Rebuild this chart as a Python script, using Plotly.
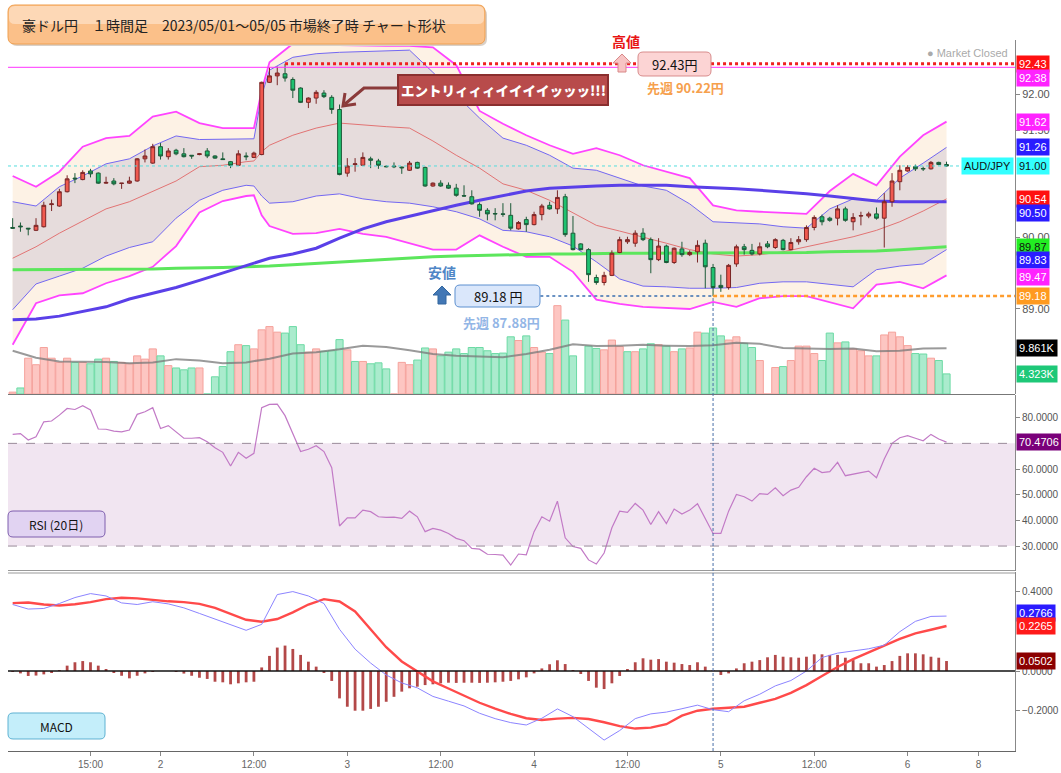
import plotly.graph_objects as go

# ---------------- data ----------------
candle_idx = list(range(121))  # hourly candles, AUD/JPY 2023/05/01 05:00 .. 05/06 05:00

opens = [
    90.14, 90.16, 90.13, 90.10, 90.15, 90.46, 90.44, 90.64, 90.83, 90.81,
    90.93, 90.90, 90.76, 90.79, 90.755, 90.76, 90.79, 91.10, 91.04, 91.27,
    91.13, 91.22, 91.17, 91.15, 91.16, 91.21, 91.14, 91.10, 91.06, 91.01,
    91.14, 91.12, 91.16, 92.17, 92.26, 92.29, 92.21, 92.09, 91.89, 91.95,
    92.02, 91.96, 91.79, 90.90, 91.02, 91.01, 91.10, 91.07, 90.995, 91.00,
    90.985, 90.94, 91.05, 90.98, 90.72, 90.76, 90.73, 90.69, 90.585, 90.57,
    90.46, 90.38, 90.335, 90.33, 90.31, 90.12, 90.25, 90.18, 90.32, 90.45,
    90.40, 90.57, 90.06, 89.91, 89.83, 89.44, 89.37, 89.47, 89.79, 89.94,
    89.92, 90.06, 89.97, 89.69, 89.88, 89.65, 89.84, 89.76, 89.80, 89.92,
    89.58, 89.33, 89.30, 89.63, 89.87, 89.82, 89.77, 89.91, 89.86, 89.96,
    89.83, 89.94, 89.97, 90.14, 90.29, 90.27, 90.27, 90.40, 90.22, 90.30,
    90.30, 90.33, 90.27, 90.50, 90.78, 90.93, 90.99, 90.965, 90.96, 91.05,
    91.02,
]
highs = [
    90.27, 90.21, 90.13, 90.27, 90.50, 90.53, 90.68, 90.87, 90.90, 90.94,
    90.96, 90.91, 90.85, 90.83, 90.76, 90.85, 91.11, 91.23, 91.31, 91.32,
    91.25, 91.24, 91.25, 91.15, 91.18, 91.25, 91.15, 91.19, 91.07, 91.22,
    91.19, 91.20, 92.18, 92.38, 92.39, 92.43, 92.24, 92.10, 91.96, 92.06,
    92.06, 91.99, 91.86, 91.11, 91.11, 91.19, 91.13, 91.10, 91.01, 91.05,
    90.99, 91.07, 91.06, 90.99, 90.77, 90.80, 90.77, 90.75, 90.73, 90.66,
    90.49, 90.41, 90.41, 90.48, 90.48, 90.23, 90.29, 90.36, 90.47, 90.50,
    90.66, 90.61, 90.30, 89.92, 89.85, 89.48, 89.52, 89.82, 90.01, 90.01,
    90.10, 90.13, 90.00, 89.99, 89.90, 89.86, 89.94, 89.82, 89.96, 89.97,
    89.63, 89.48, 89.63, 89.90, 89.91, 89.91, 89.93, 89.95, 89.99, 89.98,
    89.99, 90.02, 90.17, 90.31, 90.32, 90.29, 90.45, 90.43, 90.34, 90.36,
    90.36, 90.42, 90.62, 90.90, 91.01, 91.01, 91.02, 90.99, 91.07, 91.06,
    91.06,
]
lows = [
    90.12, 90.08, 90.03, 90.09, 90.14, 90.37, 90.43, 90.63, 90.76, 90.80,
    90.84, 90.75, 90.75, 90.73, 90.68, 90.75, 90.78, 91.05, 91.03, 91.09,
    91.09, 91.15, 91.12, 91.10, 91.15, 91.11, 91.10, 91.085, 90.97, 91.00,
    91.08, 91.11, 91.15, 92.16, 92.13, 92.18, 91.95, 91.88, 91.81, 91.87,
    91.95, 91.73, 90.87, 90.85, 90.92, 91.00, 90.97, 90.96, 90.98, 90.97,
    90.89, 90.93, 90.96, 90.71, 90.71, 90.71, 90.68, 90.57, 90.57, 90.46,
    90.29, 90.24, 90.24, 90.29, 90.10, 90.11, 90.08, 90.17, 90.24, 90.39,
    90.33, 90.01, 89.82, 89.82, 89.38, 89.34, 89.33, 89.46, 89.78, 89.91,
    89.87, 89.95, 89.50, 89.67, 89.64, 89.63, 89.73, 89.74, 89.65, 89.29,
    89.18, 89.24, 89.27, 89.59, 89.76, 89.75, 89.75, 89.85, 89.84, 89.82,
    89.82, 89.90, 89.94, 90.10, 90.17, 90.22, 90.17, 90.22, 90.10, 90.17,
    90.27, 90.25, 89.86, 90.43, 90.66, 90.92, 90.93, 90.93, 90.95, 91.01,
    90.99,
]
closes = [
    90.13, 90.15, 90.12, 90.17, 90.45, 90.47, 90.64, 90.82, 90.82, 90.91,
    90.89, 90.76, 90.77, 90.75, 90.76, 90.79, 91.10, 91.14, 91.27, 91.14,
    91.21, 91.17, 91.13, 91.14, 91.17, 91.14, 91.11, 91.09, 91.01, 91.17,
    91.13, 91.18, 92.17, 92.26, 92.30, 92.23, 92.06, 91.89, 91.95, 92.03,
    91.97, 91.79, 90.88, 91.00, 91.03, 91.12, 91.08, 91.01, 90.99, 90.99,
    90.975, 91.04, 90.97, 90.72, 90.76, 90.72, 90.69, 90.59, 90.58, 90.47,
    90.38, 90.33, 90.33, 90.325, 90.13, 90.21, 90.18, 90.32, 90.44, 90.40,
    90.56, 90.04, 89.83, 89.83, 89.48, 89.37, 89.47, 89.78, 89.97, 89.97,
    90.06, 89.97, 89.69, 89.88, 89.65, 89.85, 89.76, 89.79, 89.89, 89.59,
    89.30, 89.30, 89.61, 89.87, 89.83, 89.77, 89.87, 89.87, 89.97, 89.83,
    89.93, 89.97, 90.14, 90.28, 90.22, 90.24, 90.40, 90.24, 90.28, 90.305,
    90.33, 90.27, 90.50, 90.79, 90.94, 90.98, 90.96, 90.96, 91.05, 91.02,
    91.00,
]

# Bollinger bands / moving averages (sampled along the candle index)
band_idx = [0, 3, 6, 9, 12, 15, 18, 21, 24, 27, 30, 31, 32, 33, 36, 39, 42, 45, 48, 51,
            54, 57, 60, 63, 66, 69, 72, 75, 78, 81, 84, 87, 90, 93, 96, 99, 102, 105,
            108, 111, 114, 117, 120]
band_upper2 = [90.86, 90.71, 90.92, 91.27, 91.39, 91.42, 91.69, 91.76, 91.60, 91.53, 91.53,
               91.53, 92.06, 92.45, 92.71, 92.69, 92.69, 92.68, 92.68, 92.68, 92.66, 92.41,
               91.77, 91.59, 91.43, 91.29, 91.17, 91.25, 91.15, 91.01, 90.92, 90.83, 90.45,
               90.38, 90.36, 90.34, 90.33, 90.65, 90.89, 90.73, 91.13, 91.43, 91.62]
band_upper1 = [90.50, 90.44, 90.71, 90.86, 91.03, 91.10, 91.28, 91.42, 91.37, 91.37, 91.38,
               91.38, 91.99, 92.34, 92.52, 92.57, 92.59, 92.60, 92.61, 92.62, 92.31, 91.99,
               91.67, 91.39, 91.29, 91.15, 90.97, 90.94, 90.83, 90.72, 90.66, 90.47, 90.22,
               90.20, 90.19, 90.15, 90.13, 90.40, 90.54, 90.52, 90.83, 91.04, 91.26]
band_mid = [89.71, 89.87, 90.06, 90.23, 90.40, 90.50, 90.64, 90.79, 90.99, 91.01, 91.06,
            91.07, 91.20, 91.29, 91.43, 91.53, 91.60, 91.57, 91.55, 91.53, 91.35, 91.15,
            90.97, 90.75, 90.66, 90.52, 90.34, 90.17, 90.09, 90.01, 89.92, 89.83, 89.77,
            89.74, 89.76, 89.80, 89.87, 89.94, 90.01, 90.10, 90.22, 90.37, 90.54]
band_lower1 = [88.99, 89.35, 89.46, 89.57, 89.74, 89.86, 89.94, 90.27, 90.52, 90.66, 90.73,
               90.72, 90.58, 90.48, 90.50, 90.58, 90.61, 90.54, 90.50, 90.48, 90.43, 90.36,
               90.26, 90.10, 90.08, 90.01, 89.88, 89.66, 89.42, 89.32, 89.31, 89.29, 89.29,
               89.30, 89.36, 89.38, 89.38, 89.34, 89.31, 89.55, 89.60, 89.63, 89.83]
band_lower2 = [88.50, 89.08, 89.19, 89.22, 89.36, 89.46, 89.59, 89.88, 90.35, 90.51, 90.58,
               90.59, 90.31, 90.16, 90.05, 90.06, 90.12, 90.05, 90.01, 89.92, 89.83, 89.83,
               90.03, 89.87, 89.73, 89.73, 89.52, 89.13, 89.07, 89.03, 89.01, 89.00, 89.10,
               89.03, 89.15, 89.18, 89.18, 89.10, 89.01, 89.34, 89.38, 89.29, 89.47]
ma_long = [88.85, 88.86, 88.90, 88.96, 89.03, 89.14, 89.22, 89.30, 89.40, 89.50, 89.60,
           89.64, 89.67, 89.71, 89.77, 89.85, 89.99, 90.12, 90.22, 90.30, 90.38, 90.45,
           90.52, 90.59, 90.65, 90.69, 90.71, 90.72, 90.73, 90.73, 90.73, 90.71, 90.70,
           90.68, 90.66, 90.64, 90.61, 90.58, 90.55, 90.51, 90.50, 90.50, 90.50]
ma_green = [89.55, 89.55, 89.55, 89.55, 89.56, 89.56, 89.56, 89.57, 89.57, 89.58, 89.59,
            89.59, 89.60, 89.60, 89.62, 89.64, 89.66, 89.68, 89.70, 89.72, 89.73, 89.74,
            89.75, 89.76, 89.77, 89.77, 89.77, 89.78, 89.78, 89.78, 89.78, 89.78, 89.78,
            89.78, 89.78, 89.79, 89.79, 89.80, 89.80, 89.81, 89.83, 89.85, 89.87]

# Volume (thousands) and bar direction (u = red/up, d = green/down)
volume_k = [
    0.4, 1.3, 7.7, 6.3, 10.0, 7.7, 6.8, 7.7, 6.8, 6.8,
    6.5, 7.5, 7.7, 7.0, 6.8, 6.5, 8.2, 7.5, 9.7, 8.2,
    6.1, 5.6, 5.2, 5.6, 5.6, 0.0, 3.7, 5.9, 9.1, 10.6,
    10.4, 9.7, 13.8, 14.5, 13.3, 13.1, 14.5, 10.6, 9.0, 9.7,
    9.2, 9.3, 11.7, 9.5, 7.0, 7.0, 6.5, 6.7, 5.4, 0.0,
    6.8, 6.3, 7.3, 9.9, 9.7, 8.2, 9.0, 9.7, 8.7, 10.0,
    10.0, 9.3, 8.7, 8.8, 12.3, 11.5, 12.5, 10.0, 9.0, 8.7,
    19.0, 15.9, 8.2, 0.0, 10.3, 9.8, 9.5, 11.6, 10.2, 9.1,
    9.1, 9.7, 10.8, 10.6, 10.3, 9.1, 9.7, 9.9, 13.3, 13.1,
    14.2, 12.5, 11.6, 12.3, 10.9, 10.0, 7.2, 0.0, 5.7, 5.9,
    7.2, 10.3, 10.3, 8.7, 7.2, 13.1, 11.0, 11.2, 9.7, 9.3,
    8.2, 8.2, 12.7, 13.3, 12.3, 10.4, 8.7, 8.6, 7.7, 7.2,
    4.323,
]
volume_dir = list(
    "uduuuuuudu" "dduduuuuud" "uddduddddu" "duuuuddduu" "dddududddu" "uudduddddd"
    "ddddduduud" "uddddduuud" "uddududuud" "dduudduuud" "uuuudduduu" "uduuuuddud" "d"
)
vol_avg_idx = list(range(0, 121, 3))
vol_avg = [9.3, 7.8, 7.0, 7.0, 6.9, 6.6, 6.8, 7.5, 7.2, 6.6, 6.8, 7.6, 8.7, 9.0, 9.6, 10.4,
           10.1, 9.4, 8.6, 8.2, 8.0, 7.9, 8.6, 9.5, 10.7, 10.3, 10.4, 10.6, 10.4, 10.3, 10.5,
           11.0, 10.8, 9.9, 9.8, 9.7, 9.8, 9.2, 9.3, 9.8, 9.861]

# RSI (20)
rsi = [
    73.5, 73.8, 71.3, 72.6, 78.4, 78.7, 81.0, 83.6, 83.2, 84.7,
    83.0, 75.6, 75.5, 74.8, 74.5, 75.2, 81.3, 82.3, 83.9, 75.8,
    76.9, 74.5, 72.0, 72.0, 72.2, 70.6, 68.3, 66.5, 61.2, 66.5,
    64.2, 66.1, 83.9, 85.2, 85.3, 80.8, 73.5, 66.8, 67.7, 69.1,
    66.8, 60.5, 37.8, 41.0, 41.0, 44.0, 43.4, 41.4, 41.2, 41.3,
    40.8, 43.6, 41.4, 35.6, 36.9, 36.2, 34.9, 33.0, 32.1, 29.1,
    28.8, 26.8, 26.7, 26.5, 22.6, 26.9, 26.6, 35.6, 41.4, 39.7,
    47.5, 33.2, 29.8, 29.1, 24.6, 23.0, 27.3, 37.1, 43.6, 43.1,
    46.6, 44.0, 38.4, 43.4, 38.8, 44.4, 42.5, 44.0, 46.5, 40.8,
    34.9, 34.9, 43.6, 50.1, 49.2, 47.5, 50.4, 50.1, 52.7, 49.6,
    51.8, 52.9, 57.0, 60.3, 58.6, 59.0, 62.6, 57.4, 57.9, 58.6,
    59.2, 56.6, 63.9, 70.0, 72.2, 73.0, 72.0, 71.0, 73.5, 71.7,
    70.4706,
]

# MACD
macd_idx = list(range(0, 121, 2))
macd_line = [0.335, 0.312, 0.315, 0.340, 0.370, 0.390, 0.378, 0.343, 0.335, 0.349,
             0.338, 0.318, 0.290, 0.262, 0.232, 0.205, 0.235, 0.385, 0.400, 0.378,
             0.340, 0.210, 0.110, 0.040, -0.020, -0.060, -0.085, -0.128, -0.152, -0.176,
             -0.213, -0.240, -0.260, -0.272, -0.238, -0.191, -0.230, -0.290, -0.348, -0.300,
             -0.240, -0.216, -0.207, -0.190, -0.172, -0.195, -0.205, -0.150, -0.117, -0.075,
             -0.048, 0.000, 0.068, 0.090, 0.102, 0.112, 0.130, 0.198, 0.250, 0.275,
             0.2766]
macd_signal = [0.342, 0.345, 0.335, 0.330, 0.336, 0.347, 0.362, 0.369, 0.366, 0.358,
               0.351, 0.347, 0.338, 0.318, 0.286, 0.258, 0.248, 0.262, 0.295, 0.335,
               0.362, 0.350, 0.300, 0.210, 0.120, 0.048, 0.000, -0.052, -0.088, -0.125,
               -0.160, -0.190, -0.216, -0.238, -0.247, -0.240, -0.236, -0.242, -0.258, -0.278,
               -0.290, -0.285, -0.268, -0.225, -0.200, -0.190, -0.186, -0.180, -0.160, -0.140,
               -0.110, -0.071, -0.025, 0.020, 0.060, 0.092, 0.128, 0.162, 0.190, 0.208,
               0.2265]
macd_hist = [
    -0.005, -0.012, -0.025, -0.023, -0.017, -0.008, 0.005, 0.027, 0.044, 0.050,
    0.044, 0.027, 0.008, -0.008, -0.024, -0.037, -0.024, -0.012, -0.002, 0.0,
    0.0, -0.003, -0.013, -0.024, -0.034, -0.040, -0.054, -0.057, -0.067, -0.062,
    -0.057, -0.054, 0.018, 0.076, 0.118, 0.128, 0.111, 0.081, 0.047, 0.022,
    -0.008, -0.050, -0.138, -0.180, -0.200, -0.200, -0.191, -0.180, -0.155, -0.130,
    -0.104, -0.087, -0.079, -0.071, -0.067, -0.062, -0.059, -0.060, -0.059, -0.059,
    -0.060, -0.059, -0.057, -0.054, -0.050, -0.042, -0.032, -0.012, 0.013, 0.034,
    0.054, 0.035, 0.005, -0.015, -0.050, -0.084, -0.091, -0.062, -0.025, 0.010,
    0.044, 0.064, 0.057, 0.060, 0.047, 0.042, 0.035, 0.030, 0.044, 0.022,
    0.003, -0.020, -0.012, 0.013, 0.039, 0.047, 0.055, 0.069, 0.081, 0.072,
    0.069, 0.067, 0.072, 0.084, 0.084, 0.081, 0.081, 0.067, 0.055, 0.039,
    0.039, 0.022, 0.030, 0.050, 0.076, 0.089, 0.089, 0.084, 0.072, 0.067,
    0.0502,
]

# x-axis ticks (candle index of each labelled hour)
tick_pos = [10, 19, 31, 43, 55, 67, 79, 91, 103, 115, 124.1]
tick_text = ["15:00", "2", "12:00", "3", "12:00", "4", "12:00", "5", "12:00", "6", "8"]
price_ticks = [89.0, 90.0, 91.5, 92.0]
rsi_ticks = [30, 40, 50, 60, 80]
macd_ticks = [-0.2, 0.0, 0.4]

high_value, high_idx = 92.43, 35
low_value, low_idx = 89.18, 90
last_price = 91.00
prev_week_high, prev_week_low = "90.22", "87.88"

# ---------------- figure geometry ----------------
W, H = 1061, 773
ML, MR, MT, MB = 8, 46, 40, 22
PW, PH = W - ML - MR, H - MT - MB
XR = [-0.6, 128.8]
PRICE_R = [87.811, 92.762]


def PX(px):
    return (px - ML) / PW


def PY(py):
    return (H - MB - py) / PH


def path_px(points, close=True):
    s = ""
    for k, (a, b) in enumerate(points):
        s += ("M" if k == 0 else "L") + f"{PX(a):.5f},{PY(b):.5f} "
    return s + ("Z" if close else "")


def rrect(x0, y0, x1, y1, r):
    p = lambda a, b: f"{PX(a):.5f},{PY(b):.5f}"
    return (f"M{p(x0 + r, y0)} L{p(x1 - r, y0)} Q{p(x1, y0)} {p(x1, y0 + r)} "
            f"L{p(x1, y1 - r)} Q{p(x1, y1)} {p(x1 - r, y1)} L{p(x0 + r, y1)} "
            f"Q{p(x0, y1)} {p(x0, y1 - r)} L{p(x0, y0 + r)} Q{p(x0, y0)} {p(x0 + r, y0)} Z")


fig = go.Figure()

# Bollinger bands and moving averages (base price axis)
fig.add_trace(go.Scatter(x=band_idx, y=band_upper2, mode="lines",
                         line=dict(color="#ff44ff", width=1.8), hoverinfo="skip"))
fig.add_trace(go.Scatter(x=band_idx, y=band_lower2, mode="lines", fill="tonexty",
                         fillcolor="#fdf2e5", line=dict(color="#ff44ff", width=1.8), hoverinfo="skip"))
fig.add_trace(go.Scatter(x=band_idx, y=band_upper1, mode="lines",
                         line=dict(color="#7468f2", width=1), hoverinfo="skip"))
fig.add_trace(go.Scatter(x=band_idx, y=band_lower1, mode="lines", fill="tonexty",
                         fillcolor="#e6dcdc", line=dict(color="#7468f2", width=1), hoverinfo="skip"))
fig.add_trace(go.Scatter(x=band_idx, y=band_mid, mode="lines",
                         line=dict(color="#e27474", width=1), hoverinfo="skip"))
fig.add_trace(go.Scatter(x=band_idx, y=ma_green, mode="lines",
                         line=dict(color="#5ce65c", width=3), hoverinfo="skip"))
fig.add_trace(go.Scatter(x=band_idx, y=ma_long, mode="lines",
                         line=dict(color="#5a40e8", width=3), hoverinfo="skip"))

# Volume (overlay axis y2)
vol_fill = ["#fdc6c2" if d == "u" else "#aaebcd" for d in volume_dir]
vol_edge = ["#f5a29c" if d == "u" else "#6cdaa4" for d in volume_dir]
fig.add_trace(go.Bar(x=candle_idx, y=volume_k, yaxis="y2", width=0.92,
                     marker=dict(color=vol_fill, line=dict(color=vol_edge, width=1)),
                     hoverinfo="skip"))
fig.add_trace(go.Scatter(x=vol_avg_idx, y=vol_avg, yaxis="y2", mode="lines",
                         line=dict(color="rgba(120,120,120,0.75)", width=2), hoverinfo="skip"))

# Candles (overlay axis y3, drawn above the bands)
fig.add_trace(go.Candlestick(
    x=candle_idx, open=opens, high=highs, low=lows, close=closes, yaxis="y3",
    increasing=dict(line=dict(color="#7a2626", width=1), fillcolor="#f0594f"),
    decreasing=dict(line=dict(color="#1c5a38", width=1), fillcolor="#1fc270"),
    whiskerwidth=0, hoverinfo="skip"))

# RSI
fig.add_trace(go.Scatter(x=candle_idx, y=rsi, yaxis="y4", mode="lines",
                         line=dict(color="#c27ac6", width=1.2), hoverinfo="skip"))

# MACD
fig.add_trace(go.Bar(x=candle_idx, y=macd_hist, yaxis="y5", width=0.36,
                     marker=dict(color="#b34848", line=dict(width=0)), hoverinfo="skip"))
fig.add_trace(go.Scatter(x=macd_idx, y=macd_signal, yaxis="y5", mode="lines",
                         line=dict(color="#ff4a4a", width=2.4), hoverinfo="skip"))
fig.add_trace(go.Scatter(x=macd_idx, y=macd_line, yaxis="y5", mode="lines",
                         line=dict(color="#8c84ff", width=1), hoverinfo="skip"))

axis_common = dict(showgrid=False, zeroline=False, showline=True, linecolor="#888",
                   ticks="outside", ticklen=4, tickcolor="#888", side="right", anchor="x",
                   automargin=False)

fig.update_layout(
    width=W, height=H, margin=dict(l=ML, r=MR, t=MT, b=MB, autoexpand=False),
    paper_bgcolor="white", plot_bgcolor="white", showlegend=False, barmode="overlay",
    font=dict(family="Liberation Sans, Arial, Noto Sans CJK JP", size=11, color="#555"),
    xaxis=dict(range=XR, anchor="y5", showgrid=False, zeroline=False, showline=True,
               linecolor="#666", ticks="outside", ticklen=4, tickcolor="#888",
               tickvals=tick_pos, ticktext=tick_text, tickfont=dict(size=10, color="#666"),
               rangeslider=dict(visible=False)),
    yaxis=dict(domain=[PY(394), 1], range=PRICE_R, tickvals=price_ticks, tickformat=".2f",
               tickfont=dict(size=11, color="#555"), **axis_common),
    yaxis2=dict(overlaying="y", range=[0, (394 - 40) / 4.65], visible=False),
    yaxis3=dict(overlaying="y", range=PRICE_R, visible=False),
    yaxis4=dict(domain=[PY(571), PY(395)], range=[20.28, 88.84],
                tickvals=rsi_ticks, tickformat=".4f",
                tickfont=dict(size=10, color="#555"), **axis_common),
    yaxis5=dict(domain=[0, PY(572)], range=[-0.403, 0.4987],
                tickvals=macd_ticks, tickformat=".4f",
                tickfont=dict(size=10, color="#555"), **axis_common),
)

shapes = []
# RSI band and guides
shapes.append(dict(type="rect", xref="paper", yref="y4", x0=0, x1=1, y0=30, y1=70,
                   fillcolor="#f1e5f1", line=dict(width=0), layer="below"))
for lvl in (30, 70):
    shapes.append(dict(type="line", xref="paper", yref="y4", x0=0, x1=1, y0=lvl, y1=lvl,
                       line=dict(color="#9a8a9a", width=1, dash="dash")))
# MACD zero line
shapes.append(dict(type="line", xref="paper", yref="y5", x0=0, x1=1, y0=0, y1=0,
                   line=dict(color="#111", width=1.5)))
# panel separators
shapes.append(dict(type="line", xref="paper", yref="paper", x0=0, x1=1, y0=PY(394.5), y1=PY(394.5),
                   line=dict(color="#777", width=1)))
for yy in (570.5, 573):
    shapes.append(dict(type="line", xref="paper", yref="paper", x0=0, x1=1, y0=PY(yy), y1=PY(yy),
                       line=dict(color="#999", width=1.2)))
# price reference lines
shapes.append(dict(type="line", xref="paper", yref="y", x0=0, x1=1, y0=92.38, y1=92.38,
                   line=dict(color="#ff33ff", width=1)))
shapes.append(dict(type="line", xref="x", yref="y", x0=high_idx, x1=XR[1], y0=high_value, y1=high_value,
                   line=dict(color="#ee2020", width=3, dash="dot")))
shapes.append(dict(type="line", xref="paper", yref="y", x0=0, x1=1, y0=last_price, y1=last_price,
                   line=dict(color="#55dede", width=1, dash="dot")))
shapes.append(dict(type="line", xref="x", yref="y", x0=low_idx, x1=XR[1], y0=low_value, y1=low_value,
                   line=dict(color="#ff9d2e", width=2.5, dash="4px,3px")))
shapes.append(dict(type="line", xref="x", yref="y", x0=67.8, x1=low_idx, y0=low_value, y1=low_value,
                   line=dict(color="#3a6fb0", width=1.5, dash="dot")))
shapes.append(dict(type="line", xref="x", yref="paper", x0=low_idx, x1=low_idx, y0=0, y1=PY(296),
                   line=dict(color="#4a6fa8", width=1, dash="3px,2px")))
# title box
shapes.append(dict(type="path", xref="paper", yref="paper", path=rrect(10, 8, 487, 46, 7),
                   fillcolor="#d9d0c8", line=dict(width=0)))
shapes.append(dict(type="path", xref="paper", yref="paper", path=rrect(8, 5, 485, 44, 7),
                   fillcolor="#fbc089", line=dict(color="#f0a050", width=1)))
shapes.append(dict(type="path", xref="paper", yref="paper", path=rrect(9, 6, 484, 24, 6),
                   fillcolor="#fdd8b6", line=dict(width=0)))
# entry callout box + bent arrow
shapes.append(dict(type="rect", xref="paper", yref="paper", x0=PX(398), x1=PX(608), y0=PY(105), y1=PY(75),
                   fillcolor="#b84b4b", line=dict(color="#8a2f2f", width=2)))
shapes.append(dict(type="path", xref="paper", yref="paper",
                   path=path_px([(398, 88), (364, 88), (345, 104)], close=False),
                   line=dict(color="#8b3a3a", width=3)))
shapes.append(dict(type="path", xref="paper", yref="paper",
                   path=path_px([(345, 93), (343, 106), (356, 104)], close=False),
                   line=dict(color="#8b3a3a", width=3)))
# high marker
shapes.append(dict(type="path", xref="paper", yref="paper",
                   path=path_px([(622, 54), (631, 63), (626, 63), (626, 72), (618, 72), (618, 63), (613, 63)]),
                   fillcolor="#f7c4c4", line=dict(color="#d88888", width=1)))
shapes.append(dict(type="path", xref="paper", yref="paper", path=rrect(638, 52, 711, 76, 5),
                   fillcolor="#fcd4d4", line=dict(color="#d88c8c", width=1)))
# low marker
shapes.append(dict(type="path", xref="paper", yref="paper",
                   path=path_px([(442, 286), (451, 295), (446, 295), (446, 304), (438, 304), (438, 295), (433, 295)]),
                   fillcolor="#4277b5", line=dict(color="#33679f", width=1)))
shapes.append(dict(type="path", xref="paper", yref="paper", path=rrect(455, 285, 540, 307, 5),
                   fillcolor="#dae7fb", line=dict(color="#5d90d0", width=1)))
# panel name boxes
shapes.append(dict(type="path", xref="paper", yref="paper", path=rrect(8, 511, 105, 537, 5),
                   fillcolor="#e1d3f2", line=dict(color="#7e5fae", width=1)))
shapes.append(dict(type="path", xref="paper", yref="paper", path=rrect(8, 713, 105, 739, 5),
                   fillcolor="#c4eefa", line=dict(color="#5fb2d2", width=1)))

JP = "Noto Sans CJK JP"
ann = []


def pix_text(px, py, text, size=13, color="#111", bold=False, xanchor="center", family=JP, weight=None):
    font = dict(size=size, color=color, family=family)
    if weight is not None:
        font["weight"] = weight
    ann.append(dict(xref="paper", yref="paper", x=PX(px), y=PY(py),
                    text=f"<b>{text}</b>" if bold else text,
                    showarrow=False, xanchor=xanchor, yanchor="middle", font=font))


pix_text(20, 25, "豪ドル円　１時間足　2023/05/01～05/05 市場終了時 チャート形状", size=14, color="#222",
         xanchor="left")
pix_text(503, 90, "エントリィィィイイイイッッッ!!!", size=13.5, color="white", weight=900)
pix_text(626, 41, "高値", size=14, color="#e81414", bold=True)
pix_text(674.5, 64.5, f"{high_value:.2f}円", size=13)
pix_text(685, 88, f"先週 {prev_week_high}円", size=13, color="#f6a04d", bold=True)
pix_text(442, 272, "安値", size=14, color="#4f86c6", bold=True)
pix_text(497.5, 296, f"{low_value:.2f} 円", size=13)
pix_text(501, 322, f"先週 {prev_week_low}円", size=13, color="#93b6e6", bold=True)
pix_text(56, 524, "RSI (20日)", size=12, color="#111")
pix_text(56, 726, "MACD", size=12, color="#111")
pix_text(1010, 53, "● Market Closed", size=11, color="#aaaaaa", xanchor="right",
         family="Liberation Sans, Arial")


def axis_label(yref, val, text, bg, fg="white", yshift=0):
    ann.append(dict(xref="paper", yref=yref, x=1, y=val, xanchor="left", yanchor="middle",
                    xshift=1, yshift=yshift, text=text, showarrow=False, bgcolor=bg,
                    borderpad=2, font=dict(size=11, color=fg, family="Liberation Sans, Arial")))


axis_label("y", 92.43, "92.43", "#ff1010")
axis_label("y", 92.38, "92.38", "#ff22ff", yshift=-11)
axis_label("y", 91.62, "91.62", "#ff22ff")
axis_label("y", 91.26, "91.26", "#2a1bff")
axis_label("y", last_price, "91.00", "#33ffff", fg="#111")
axis_label("y", 90.54, "90.54", "#ff1010")
axis_label("y", 90.50, "90.50", "#2a1bff", yshift=-11)
axis_label("y", 89.87, "89.87", "#22ee22", fg="#111")
axis_label("y", 89.83, "89.83", "#2a1bff", yshift=-10)
axis_label("y", 89.47, "89.47", "#ff22ff", yshift=-2)
axis_label("y", low_value, "89.18", "#ff9a1f")
axis_label("y2", vol_avg[-1], "9.861K", "#000000")
axis_label("y2", volume_k[-1], "4.323K", "#1ec878")
axis_label("y4", rsi[-1], "70.4706", "#7a007a")
axis_label("y5", macd_line[-1], "0.2766", "#2a1bff", yshift=3)
axis_label("y5", macd_signal[-1], "0.2265", "#ff1a1a")
axis_label("y5", macd_hist[-1], "0.0502", "#8b0000")
ann.append(dict(xref="paper", yref="y", x=1, y=last_price, xanchor="right", yanchor="middle",
                xshift=-1, text="AUD/JPY", showarrow=False, bgcolor="#33ffff", borderpad=2,
                font=dict(size=11, color="#111", family="Liberation Sans, Arial")))

fig.update_layout(shapes=shapes, annotations=ann)
fig.write_html("out.html", config={"displayModeBar": False},
               post_script="document.body.style.margin='0';document.body.style.overflow='hidden';")
